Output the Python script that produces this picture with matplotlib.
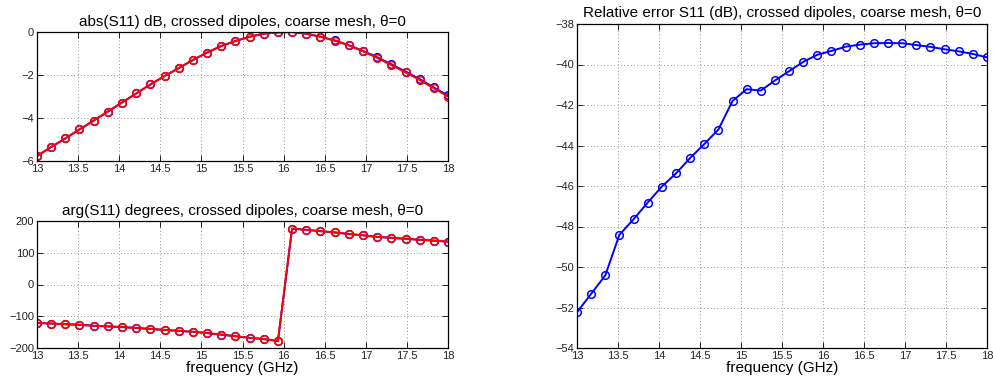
import matplotlib
matplotlib.use("Agg")
import matplotlib.pyplot as plt

plt.rcParams['font.family'] = ['Liberation Sans', 'DejaVu Sans']

freq = [13.0, 13.172, 13.345, 13.517, 13.69, 13.862, 14.034, 14.207, 14.379, 14.552,
        14.724, 14.897, 15.069, 15.241, 15.414, 15.586, 15.759, 15.931, 16.103, 16.276,
        16.448, 16.621, 16.793, 16.966, 17.138, 17.31, 17.483, 17.655, 17.828, 18.0]

abs_blue = [-5.77, -5.35, -4.95, -4.53, -4.12, -3.70, -3.28, -2.86, -2.44, -2.05,
            -1.68, -1.30, -0.96, -0.65, -0.42, -0.22, -0.08, -0.02, 0.0, -0.08,
            -0.22, -0.39, -0.61, -0.88, -1.17, -1.50, -1.84, -2.19, -2.58, -2.95]
abs_red = [-5.77, -5.35, -4.95, -4.53, -4.12, -3.70, -3.28, -2.86, -2.44, -2.05,
           -1.68, -1.30, -0.96, -0.65, -0.42, -0.22, -0.08, -0.02, 0.0, -0.08,
           -0.22, -0.40, -0.62, -0.90, -1.20, -1.54, -1.88, -2.23, -2.62, -3.0]

arg_blue = [-121, -123, -125, -127, -130, -132, -134, -137, -140, -143,
            -146, -149, -153, -158, -163, -168, -172, -178, 176, 172,
            168, 164, 159, 155, 150, 147, 144, 141, 138, 135]
arg_red = [-121, -123, -125, -127, -130, -132, -134, -137, -140, -143,
           -146, -149, -153, -158, -163, -168, -172, -178, 176, 172,
           168, 164, 159, 155, 150, 147, 144, 141, 138, 135]

rel_err = [-52.23, -51.33, -50.41, -48.41, -47.64, -46.82, -46.03, -45.38, -44.62, -43.93,
           -43.21, -41.80, -41.22, -41.29, -40.79, -40.33, -39.87, -39.52, -39.33, -39.12,
           -39.02, -38.95, -38.94, -38.95, -39.04, -39.13, -39.25, -39.35, -39.48, -39.65]

xticks = [13, 13.5, 14, 14.5, 15, 15.5, 16, 16.5, 17, 17.5, 18]
xticklabels = ['13', '13.5', '14', '14.5', '15', '15.5', '16', '16.5', '17', '17.5', '18']

W, H = 993, 385
fig = plt.figure(figsize=(W / 100, H / 100), dpi=100)

def ax_px(l, t, r, b):
    return fig.add_axes([l / W, 1 - b / H, (r - l) / W, (b - t) / H])

ax1 = ax_px(37, 32, 448, 161)
ax2 = ax_px(37, 221, 448, 348)
ax3 = ax_px(577, 24, 987, 348)

def style(ax):
    ax.set_xlim(13, 18)
    ax.set_xticks(xticks)
    ax.set_xticklabels(xticklabels)
    ax.grid(True, linestyle=(0, (1, 3)), color='#707070', linewidth=0.6)
    ax.tick_params(direction='in', top=True, right=True, labelsize=8, length=4, width=0.6,
                   pad=2, labelcolor='#222222')
    for s in ax.spines.values():
        s.set_linewidth(0.9)

mk = dict(marker='o', markerfacecolor='none', markersize=5.5, markeredgewidth=1.1, linewidth=1.4)

ax1.plot(freq, abs_blue, color='#0000ff', **mk)
ax1.plot(freq, abs_red, color='#ff0000', **mk)
style(ax1)
ax1.set_ylim(-6, 0)
ax1.set_yticks([-6, -4, -2, 0])
ax1.set_title('abs(S11) dB, crossed dipoles, coarse mesh, θ=0', fontsize=11, pad=4)

ax2.plot(freq, arg_blue, color='#0000ff', **mk)
ax2.plot(freq, arg_red, color='#ff0000', **mk)
style(ax2)
ax2.set_ylim(-200, 200)
ax2.set_yticks([-200, -100, 0, 100, 200])
ax2.set_title('arg(S11) degrees, crossed dipoles, coarse mesh, θ=0', fontsize=11, pad=4)
ax2.set_xlabel('frequency (GHz)', fontsize=11, labelpad=0)

ax3.plot(freq, rel_err, color='#0000ff', **mk)
style(ax3)
ax3.set_ylim(-54, -38)
ax3.set_yticks(list(range(-54, -37, 2)))
ax3.set_title('Relative error S11 (dB), crossed dipoles, coarse mesh, θ=0', fontsize=11, pad=5)
ax3.set_xlabel('frequency (GHz)', fontsize=11, labelpad=0)

fig.savefig('out.png', dpi=100)
